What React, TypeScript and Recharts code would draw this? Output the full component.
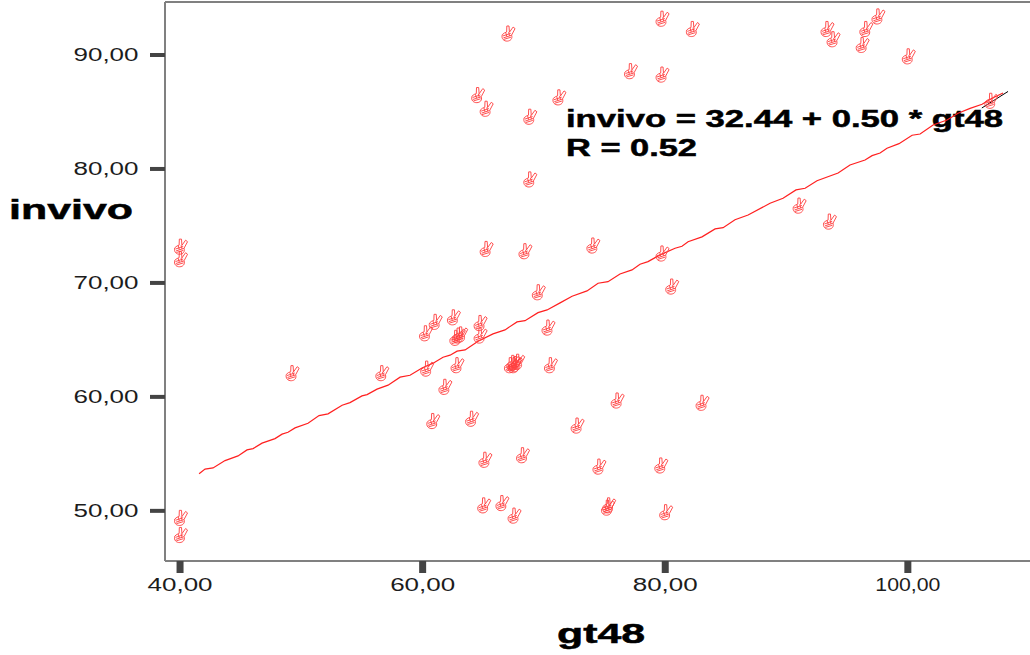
import { ReferenceLine, Scatter, ScatterChart, XAxis, YAxis } from 'recharts';

const X_TICKS = [40, 60, 80, 100];
const Y_TICKS = [50, 60, 70, 80, 90];

const GT48 = [
  40, 40, 40, 40, 49.2, 56.6, 60.2, 60.3, 60.8, 61, 61.8, 62.5, 62.7, 62.9, 63.1, 62.8, 64, 64.7, 64.7, 65.1,
  65, 64.5, 65.2, 65.2, 66.5, 67, 67.2, 67.4, 67.6, 67.8, 67.5, 67.5, 68.2, 68.4, 68.8, 68.8, 69.5, 70.3, 70.5,
  71.2, 72.7, 74, 74.5, 75.2, 75.3, 76, 77.1, 79.7, 79.7, 79.7, 79.6, 80, 80.5, 82.2, 83, 91, 93.3, 93.5, 93.8,
  96.2, 96.5, 97.5, 100, 106.8,
];
const INVIVO = [
  73.2, 72.1, 49.4, 47.9, 62.1, 62.1, 65.6, 62.5, 57.9, 66.6, 60.9, 67, 65.2, 65.4, 65.5, 62.8, 58.1, 66.5, 65.4, 54.5,
  50.5, 86.5, 85.3, 73, 50.7, 91.9, 62.8, 63, 62.9, 63.1, 62.8, 49.6, 54.9, 72.8, 84.6, 79.1, 69.2, 66.1, 62.8,
  86.3, 57.5, 73.3, 53.9, 50.3, 50.5, 59.7, 88.6, 93.2, 88.3, 72.6, 54, 49.9, 69.7, 92.3, 59.5, 76.8, 92.3, 75.4, 91.4,
  90.9, 92.3, 93.4, 89.9, 86,
];

// fit line, with its small steps
const FIT_X = [
  41.57, 42.06, 42.72, 43.71, 44.78, 45.52, 46.02, 46.76, 47.83, 48.41, 48.9, 49.48, 50.55, 51.46, 52.2, 53.36, 54.01,
  55, 55.42, 56.24, 57.15, 58.14, 58.96, 59.95, 60.86, 61.68, 62.26, 62.84, 63.5, 64.57, 65.8, 66.79, 67.78, 68.44,
  69.51, 70.26, 71.33, 72.32, 73.55, 74.46, 75.28, 76.27, 77.26, 77.92, 78.58, 79.57, 80.81, 81.38, 81.88, 83.03,
  84.11, 84.77, 85.75, 86.83, 88.64, 89.71, 90.78, 91.53, 92.51, 94.25, 95.23, 96.47, 97.05, 97.71, 98.28, 99.27,
  100.35, 101.01, 102.08, 103.23, 104.14, 105.13, 106.12, 106.94, 107.85,
];
const FIT_Y = [
  53.25, 53.66, 53.77, 54.41, 54.82, 55.35, 55.46, 55.94, 56.34, 56.73, 56.9, 57.28, 57.69, 58.36, 58.51, 59.27, 59.5,
  60.09, 60.2, 60.68, 61.03, 61.73, 61.9, 62.54, 62.96, 63.48, 63.66, 64.01, 64.12, 64.89, 65.53, 65.88, 66.58, 66.69,
  67.39, 67.63, 68.25, 68.83, 69.3, 69.97, 70.11, 70.79, 71.14, 71.64, 71.87, 72.46, 73.04, 73.22, 73.62, 74.04,
  74.74, 74.85, 75.55, 75.96, 76.99, 77.43, 78.16, 78.31, 78.97, 79.65, 80.35, 80.79, 81.17, 81.4, 81.82, 82.22,
  82.96, 83.07, 83.86, 84.3, 84.89, 85.32, 85.68, 86.2, 86.67,
];
const BLACK_X = [106.1, 108.26];
const BLACK_Y = [85.35, 86.8];

const points = GT48.map((x, i) => ({ x, y: INVIVO[i] }));
const fitLine = FIT_X.map((x, i) => ({ x, y: FIT_Y[i] }));
const blackLine = BLACK_X.map((x, i) => ({ x, y: BLACK_Y[i] }));

const X_DOMAIN = [38.76, 110.07];
const Y_DOMAIN = [45.6, 94.65];
const FONT = '"Liberation Sans", sans-serif';
const INK = '#1c1c1c';
const FRAME = '#808080';

const fmt = (v: number) => v.toFixed(2).replace('.', ',');

function XTick({ x, payload }: any) {
  return (
    <text x={x} y={591} textAnchor="middle" fontFamily={FONT} fontSize={18} fill={INK} textLength={65} lengthAdjust="spacingAndGlyphs">
      {fmt(payload.value)}
    </text>
  );
}

function YTick({ y, payload }: any) {
  return (
    <text x={106} y={y + 6} textAnchor="middle" fontFamily={FONT} fontSize={18} fill={INK} textLength={65} lengthAdjust="spacingAndGlyphs">
      {fmt(payload.value)}
    </text>
  );
}

// the "victory hand" marker
function Hand({ cx, cy }: any) {
  return (
    <g transform={`translate(${cx + 0.8},${cy}) scale(1.08)`} fill="none" stroke="#ff4040" strokeWidth={0.85}>
      <path d="M-5.6 1.2C-6.8 5-4 7.4-1 7.2 2 7 4 5 3 1.6L6.2-4.4 4.4-5.8 1-1 0.6-6.8-1.4-6.8-1.6-1.2-3.6-0.4Z" />
      <path d="M-5 2.4L2.2 0M-4.6 4.2L2.8 1.8M-2.4-0.6L-1.4 3M0.2-1L1.2 2.4M-4.2 5.6L2.4 3.6" />
    </g>
  );
}

const TITLE_PROPS = {
  fontFamily: FONT,
  fontWeight: 'bold',
  fill: '#000',
  stroke: '#000',
  strokeWidth: 0.5,
  lengthAdjust: 'spacingAndGlyphs',
};

export default function App() {
  return (
    <div style={{ position: 'absolute', left: 0, top: 0, width: 1030, height: 655 }}>
      <ScatterChart width={1030} height={655} margin={{ top: 2, right: 0, bottom: 0, left: 0 }}>
        <XAxis
          type="number"
          dataKey="x"
          domain={X_DOMAIN}
          ticks={X_TICKS}
          allowDataOverflow
          height={94}
          tickSize={12}
          tick={<XTick />}
          axisLine={{ stroke: FRAME, strokeWidth: 2 }}
          tickLine={{ stroke: '#444', strokeWidth: 7 }}
        />
        <YAxis
          type="number"
          dataKey="y"
          domain={Y_DOMAIN}
          ticks={Y_TICKS}
          allowDataOverflow
          width={165}
          tickSize={15}
          tick={<YTick />}
          axisLine={{ stroke: FRAME, strokeWidth: 2 }}
          tickLine={{ stroke: '#444', strokeWidth: 4 }}
        />
        <ReferenceLine y={Y_DOMAIN[1]} stroke={FRAME} strokeWidth={2} ifOverflow="visible" />
        <ReferenceLine y={Y_DOMAIN[0]} stroke={FRAME} strokeWidth={2} ifOverflow="visible" />
        <ReferenceLine x={X_DOMAIN[0]} stroke={FRAME} strokeWidth={2} ifOverflow="visible" />
        <Scatter data={blackLine} line={{ stroke: '#000', strokeWidth: 1 }} shape={() => null} isAnimationActive={false} />
        <Scatter data={fitLine} line={{ stroke: '#ff2020', strokeWidth: 1.2 }} shape={() => null} isAnimationActive={false} />
        <Scatter data={points} shape={<Hand />} isAnimationActive={false} />
        <text x={566} y={127} fontSize={24} textLength={437} {...TITLE_PROPS}>
          invivo = 32.44 + 0.50 * gt48
        </text>
        <text x={566} y={156} fontSize={24} textLength={131} {...TITLE_PROPS}>
          R = 0.52
        </text>
        <text x={9} y={219} fontSize={27} textLength={124} {...TITLE_PROPS}>
          invivo
        </text>
        <text x={557} y={643} fontSize={27} textLength={88} {...TITLE_PROPS}>
          gt48
        </text>
      </ScatterChart>
    </div>
  );
}
